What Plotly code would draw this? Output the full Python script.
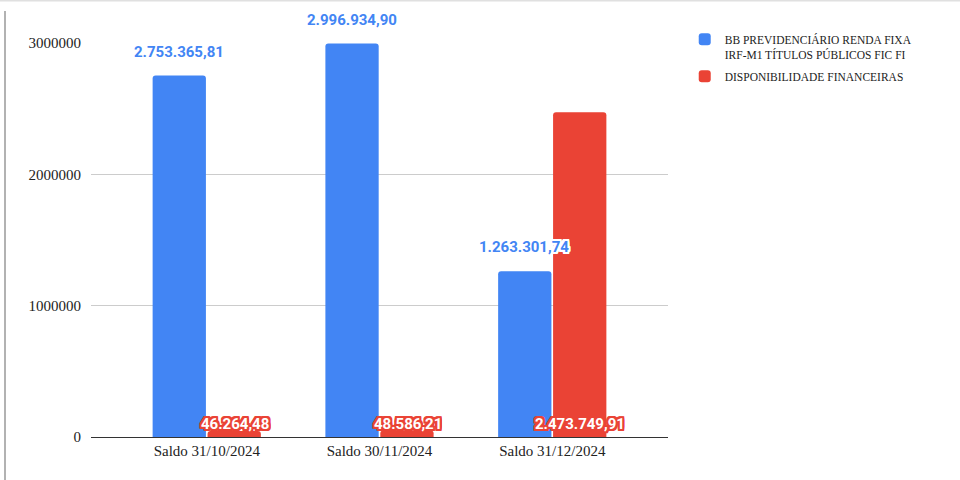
import plotly.graph_objects as go

categories = ["Saldo 31/10/2024", "Saldo 30/11/2024", "Saldo 31/12/2024"]
fund_name = "BB PREVIDENCIÁRIO RENDA FIXA<br>IRF-M1 TÍTULOS PÚBLICOS FIC FI"
cash_name = "DISPONIBILIDADE FINANCEIRAS"
fund_values = [2753365.81, 2996934.90, 1263301.74]
cash_values = [46264.48, 48586.21, 2473749.91]
fund_labels = ["2.753.365,81", "2.996.934,90", "1.263.301,74"]
cash_labels = ["46.264,48", "48.586,21", "2.473.749,91"]
y_ticks = [0, 1000000, 2000000, 3000000]

BLUE = "#4285f4"
RED = "#ea4335"
SERIF = "Liberation Serif, Times New Roman, serif"
LABEL_FONT = "Roboto, Arial, sans-serif"

fig = go.Figure()
fig.add_trace(go.Bar(x=categories, y=fund_values, name=fund_name, legendgroup="a",
                     marker=dict(color=BLUE, cornerradius=3, line=dict(width=0))))
fig.add_trace(go.Bar(x=categories, y=cash_values, name=cash_name, legendgroup="b",
                     marker=dict(color=RED, cornerradius=3, line=dict(width=0))))

def outline(c):
    return ", ".join(f"{dx}px {dy}px 0 {c}" for dx in (-2, -1, 0, 1, 2) for dy in (-2, -1, 0, 1, 2))

annotations = []
for cat, v, t in zip(categories, fund_values, fund_labels):
    annotations.append(dict(x=cat, y=v, xref="x", yref="y", text=f"<b>{t}</b>",
                            showarrow=False, xshift=-28, yshift=24, yanchor="middle",
                            font=dict(family=LABEL_FONT, size=15, color=BLUE,
                                      shadow=outline("white"))))
for cat, v, t in zip(categories, cash_values, cash_labels):
    annotations.append(dict(x=cat, y=0, xref="x", yref="y", text=f"<b>{t}</b>",
                            showarrow=False, xshift=28, yshift=13, yanchor="middle",
                            font=dict(family=LABEL_FONT, size=15, color="white",
                                      shadow=outline(RED))))

fig.update_layout(
    width=960, height=480,
    margin=dict(l=91, r=292, t=43, b=43),
    paper_bgcolor="white", plot_bgcolor="white",
    barmode="group", bargap=0.364, bargroupgap=0.03,
    font=dict(family=SERIF, size=15, color="#222"),
    xaxis=dict(range=[-0.67, 2.67], showgrid=False, showline=True, linecolor="#333",
               linewidth=1, ticks="", tickfont=dict(family=SERIF, size=15, color="#222")),
    yaxis=dict(range=[0, 3000000 * 1.0005], tickvals=y_ticks,
               ticktext=[str(v) for v in y_ticks], showgrid=True, gridcolor="#cccccc",
               gridwidth=1, zeroline=False, showline=False, ticks="", ticklabelstandoff=9,
               tickfont=dict(family=SERIF, size=15, color="#222")),
    legend=dict(x=1.029, y=1.045, xanchor="left", yanchor="top", xref="paper",
                font=dict(family=SERIF, size=11.5, color="#222"), valign="top",
                tracegroupgap=4, itemwidth=30, bgcolor="rgba(0,0,0,0)"),
    annotations=annotations,
    shapes=[
        dict(type="line", xref="paper", yref="paper",
             x0=(5 - 91) / 577, x1=(5 - 91) / 577, y0=(437 - 11) / 394, y1=(437 - 481) / 394,
             line=dict(color="#999999", width=1.5)),
        dict(type="line", xref="paper", yref="paper",
             x0=-91 / 577, x1=(960 - 91) / 577, y0=(437 - 0.5) / 394, y1=(437 - 0.5) / 394,
             line=dict(color="#e0e0e0", width=2)),
    ],
)

fig.write_html("out.html", config={"displayModeBar": False},
               post_script="document.body.style.margin='0';document.body.style.padding='0';")
